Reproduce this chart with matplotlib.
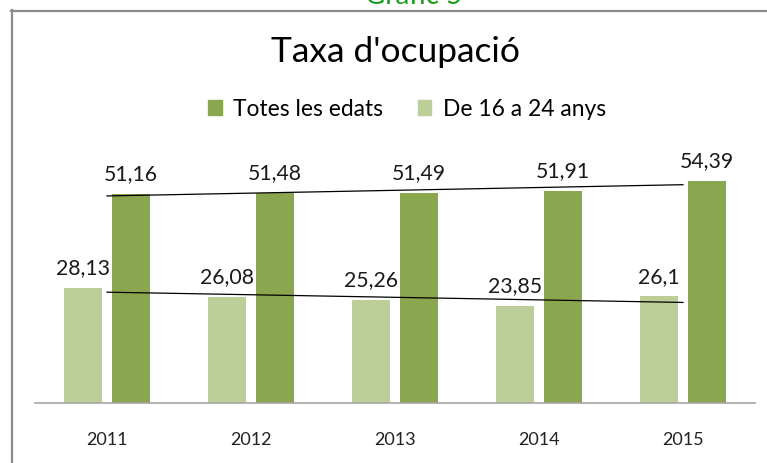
import numpy as np
import matplotlib.pyplot as plt
from matplotlib.lines import Line2D
from matplotlib.patches import Patch

# Data
years = ['2011', '2012', '2013', '2014', '2015']
totes_edats = [51.16, 51.48, 51.49, 51.91, 54.39]
joves_16_24 = [28.13, 26.08, 25.26, 23.85, 26.1]

DARK = '#8aa64f'
LIGHT = '#bccf98'
FONT = 'Lato'

W, H = 767, 464
fig = plt.figure(figsize=(W / 100, H / 100), dpi=100)
fig.patch.set_facecolor('white')

# Outer frame (only top and left edges are visible in the crop)
fig.add_artist(Line2D([11 / W, 1], [1 - 11.5 / H, 1 - 11.5 / H], color='#8c8c8c', lw=1.6))
fig.add_artist(Line2D([11.5 / W, 11.5 / W], [0, 1 - 11 / H], color='#8c8c8c', lw=1.6))

# Caption cut by the top edge (as in the original)
fig.text(414 / W, 1 - 4 / H, 'Gràfic 5', color='#1a9e1a', fontsize=20,
         family=FONT, ha='center', va='baseline')

# Plot area
ax = fig.add_axes([35 / W, 60 / H, 720 / W, 245 / H])
x = np.arange(len(years))
width = 0.27
off = 0.167
b_light = ax.bar(x - off, joves_16_24, width, color=LIGHT)
b_dark = ax.bar(x + off, totes_edats, width, color=DARK)

# Linear trend lines
for vals in (totes_edats, joves_16_24):
    coef = np.polyfit(x, vals, 1)
    ax.plot(x, np.poly1d(coef)(x), color='black', lw=0.9)

# Data labels with comma decimals
for bars, vals in ((b_light, joves_16_24), (b_dark, totes_edats)):
    for rect, v in zip(bars, vals):
        ax.text(rect.get_x() + rect.get_width() / 2, v + 2.6,
                str(v).replace('.', ','), ha='center', va='bottom',
                fontsize=15.3, family=FONT, color='#1a1a1a', clip_on=False)

ax.set_xlim(-0.5, len(years) - 0.5)
ax.set_ylim(0, 60)
ax.set_xticks(x)
ax.set_xticklabels(years, fontsize=13, family=FONT, color='#222222')
ax.tick_params(axis='x', length=0, pad=20)
ax.set_yticks([])
for side in ('left', 'right', 'top'):
    ax.spines[side].set_visible(False)
ax.spines['bottom'].set_color('#a6a6a6')
ax.spines['bottom'].set_linewidth(1.2)

fig.text(395 / W, 1 - 52 / H, "Taxa d'ocupació", fontsize=25.5, family=FONT,
         ha='center', va='center', color='black')

handles = [Patch(color=DARK), Patch(color=LIGHT)]
fig.legend(handles, ['Totes les edats', 'De 16 a 24 anys'],
           loc='center', bbox_to_anchor=(407 / W, 1 - 110 / H), ncol=2,
           frameon=False, handlelength=0.6, handleheight=0.6,
           handletextpad=0.5, columnspacing=1.5,
           prop={'family': FONT, 'size': 16.4})

fig.savefig('out.png', dpi=100)
